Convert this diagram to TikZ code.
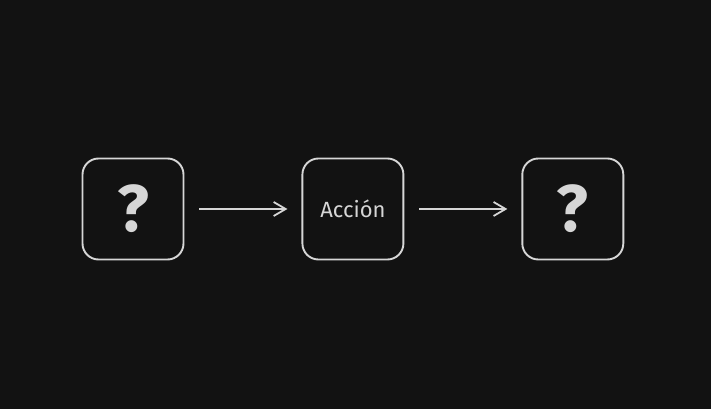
\documentclass[tikz,border=0pt]{standalone}
\usepackage{fontspec}
\setmainfont{Fira Sans}
\usetikzlibrary{positioning,arrows.meta}
\definecolor{fondo}{HTML}{121212}
\definecolor{trazo}{HTML}{D6D6D6}
\tikzset{
  caja/.style={draw=trazo, line width=1.9pt, rounded corners=16pt, minimum width=101pt, minimum height=101pt, text=trazo, inner sep=0pt},
  flecha/.style={draw=trazo, line width=1.8pt, -{Straight Barb[length=12pt,width=14pt,line width=1.8pt]}, shorten <=15pt, shorten >=14pt}
}
\begin{document}
\begin{tikzpicture}[x=1pt,y=1pt,node distance=117pt]
\fill[fondo] (0,0) rectangle (711,409);
\useasboundingbox (0,0) rectangle (711,409);

\node[caja] (entrada) at (133,200){\fontsize{66}{66}\selectfont\bfseries ?};
\node[caja, right=of entrada] (accion){\fontsize{22}{22}\selectfont Acción};
\node[caja, right=of accion] (salida){\fontsize{66}{66}\selectfont\bfseries ?};

\draw[flecha] (entrada) -- (accion);
\draw[flecha] (accion) -- (salida);
\end{tikzpicture}
\end{document}
